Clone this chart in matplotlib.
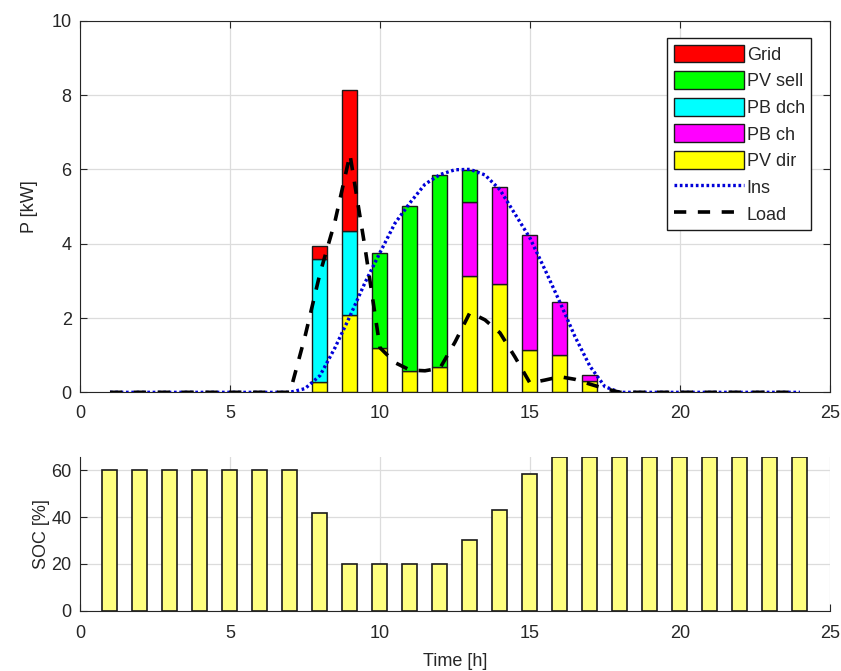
import matplotlib
matplotlib.use('Agg')
import matplotlib.pyplot as plt
import numpy as np

plt.rcParams['font.family'] = ['Liberation Sans', 'DejaVu Sans']

# hourly power flows [kW], hours 1..24
hours = np.arange(1, 25)
pv_dir = np.array([0, 0, 0, 0, 0, 0, 0, 0.28, 2.08, 1.19, 0.58, 0.67,
                   3.14, 2.92, 1.14, 1.01, 0.31, 0, 0, 0, 0, 0, 0, 0])
pb_dch = np.array([0, 0, 0, 0, 0, 0, 0, 3.32, 2.27, 0, 0, 0,
                   0, 0, 0, 0, 0, 0, 0, 0, 0, 0, 0, 0])
pb_ch = np.array([0, 0, 0, 0, 0, 0, 0, 0, 0, 0, 0, 0,
                  1.97, 2.61, 3.10, 1.41, 0.16, 0, 0, 0, 0, 0, 0, 0])
pv_sell = np.array([0, 0, 0, 0, 0, 0, 0, 0, 0, 2.57, 4.44, 5.19,
                    0.88, 0, 0, 0, 0, 0, 0, 0, 0, 0, 0, 0])
grid = np.array([0, 0, 0, 0, 0, 0, 0, 0.34, 3.79, 0, 0, 0,
                 0, 0, 0, 0, 0, 0, 0, 0, 0, 0, 0, 0])

# insolation and load, half hour steps from 1 to 24
t_fine = np.arange(1, 24.01, 0.5)
ins = [0] * 13 + [0.1, 0.45, 1.2, 2.05, 2.95, 3.76, 4.55, 5.1, 5.6, 5.86, 5.99,
                  6.0, 5.85, 5.45, 4.8, 4.15, 3.3, 2.42, 1.5, 0.7, 0.15] + [0] * 13
load = [0] * 13 + [1.5, 3.2, 4.6, 6.4, 3.9, 1.2, 0.8, 0.6, 0.58, 0.65, 1.35,
                   2.15, 1.95, 1.6, 0.95, 0.25, 0.33, 0.42, 0.35, 0.22, 0.1] + [0] * 13

# battery state of charge [%]
soc = [60, 60, 60, 60, 60, 60, 60, 41.8, 20, 20, 20, 20,
       30, 43.2, 58.5, 65.8, 65.8, 65.8, 65.8, 65.8, 65.8, 65.8, 65.8, 65.8]

txt = '#262626'
fig = plt.figure(figsize=(8.41, 6.71), dpi=100)
ax1 = fig.add_axes([0.0951, 0.4153, 0.8918, 0.5538])
ax2 = fig.add_axes([0.0951, 0.0899, 0.8918, 0.2295])

w = 0.5
stack = [(pv_dir, 'yellow', 'PV dir'), (pb_dch, 'cyan', 'PB dch'),
         (pb_ch, 'magenta', 'PB ch'), (pv_sell, 'lime', 'PV sell'),
         (grid, 'red', 'Grid')]
bottom = np.zeros(24)
handles = {}
for vals, col, name in stack:
    m = vals > 0
    handles[name] = ax1.bar(hours[m], vals[m], w, bottom=bottom[m], color=col,
                            edgecolor='#1a1a1a', linewidth=1, zorder=2)
    bottom = bottom + vals

h_ins, = ax1.plot(t_fine, ins, color='#0000d8', lw=2.4, linestyle=(0, (0.8, 0.8)), zorder=3)
h_load, = ax1.plot(t_fine, load, color='black', lw=2.6, linestyle=(0, (3.4, 3.2)), zorder=4)

ax1.set_xlim(0, 25)
ax1.set_ylim(0, 10)
ax1.set_xticks([0, 5, 10, 15, 20, 25])
ax1.set_yticks([0, 2, 4, 6, 8, 10])
ax1.set_ylabel('P [kW]', fontsize=13, color=txt, labelpad=10)
ax1.grid(True, color='#dcdcdc', lw=0.9)
ax1.set_axisbelow(True)
ax1.tick_params(direction='in', labelsize=13, colors=txt, top=True, right=True,
                length=5, pad=6)
ax1.tick_params(axis='x', pad=9)
for s in ax1.spines.values():
    s.set_color(txt)

leg = ax1.legend([handles['Grid'], handles['PV sell'], handles['PB dch'],
                  handles['PB ch'], handles['PV dir'], h_ins, h_load],
                 ['Grid', 'PV sell', 'PB dch', 'PB ch', 'PV dir', 'Ins', 'Load'],
                 loc='upper right', bbox_to_anchor=(0.975, 0.953), borderaxespad=0,
                 fontsize=13, handlelength=3.9, handleheight=1.15, labelspacing=0.42,
                 handletextpad=0.15, borderpad=0.35, fancybox=False, framealpha=1)
leg.get_frame().set_edgecolor('#1a1a1a')
leg.get_frame().set_linewidth(1)
for t in leg.get_texts():
    t.set_color(txt)

ax2.bar(hours, soc, w, color='#ffff80', edgecolor='#1a1a1a', linewidth=1.2, zorder=2)
ax2.set_xlim(0, 25)
ax2.set_ylim(0, max(soc))
ax2.set_xticks([0, 5, 10, 15, 20, 25])
ax2.set_yticks([0, 20, 40, 60])
ax2.set_ylabel('SOC [%]', fontsize=13, color=txt, labelpad=1)
ax2.set_xlabel('Time [h]', fontsize=13, color=txt, labelpad=8)
ax2.grid(True, color='#dcdcdc', lw=0.9)
ax2.set_axisbelow(True)
ax2.tick_params(direction='in', labelsize=13, colors=txt, length=5, pad=6)
ax2.tick_params(axis='x', pad=10)
ax2.spines['top'].set_visible(False)
ax2.spines['right'].set_visible(False)
for s in ax2.spines.values():
    s.set_color(txt)

fig.savefig('out.png', dpi=100)
